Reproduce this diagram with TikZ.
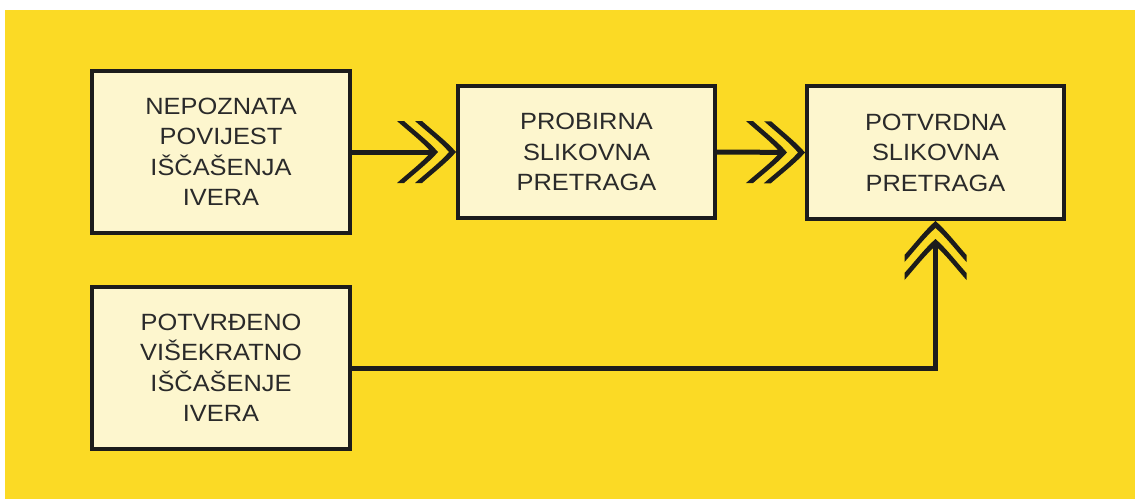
\documentclass[tikz,border=0pt]{standalone}
\usepackage{fontspec}
\setmainfont[FakeStretch=1.08]{Liberation Sans}
\usetikzlibrary{arrows.meta}
\definecolor{bgyellow}{HTML}{FBDA25}
\definecolor{boxfill}{HTML}{FDF6CE}
\definecolor{ink}{HTML}{1C1C1C}
\definecolor{txt}{HTML}{2A2A2A}

\newcommand\dchevshape[1]{%
  \pgfpathmoveto{\pgfpoint{#1pt-34pt}{31pt}}%
  \pgfpathcurveto{\pgfpoint{#1pt-24pt}{22pt}}{\pgfpoint{#1pt-8.5pt}{10pt}}{\pgfpoint{#1pt}{0pt}}%
  \pgfpathcurveto{\pgfpoint{#1pt-8.5pt}{-10pt}}{\pgfpoint{#1pt-24pt}{-22pt}}{\pgfpoint{#1pt-34pt}{-31pt}}%
  \pgfpathlineto{\pgfpoint{#1pt-41pt}{-31pt}}%
  \pgfpathcurveto{\pgfpoint{#1pt-31pt}{-22pt}}{\pgfpoint{#1pt-15.5pt}{-10pt}}{\pgfpoint{#1pt-7pt}{0pt}}%
  \pgfpathcurveto{\pgfpoint{#1pt-15.5pt}{10pt}}{\pgfpoint{#1pt-31pt}{22pt}}{\pgfpoint{#1pt-41pt}{31pt}}%
  \pgfpathclose}

\pgfdeclarearrow{
  name=DChev,
  setup code={
    \pgfarrowssettipend{0pt}
    \pgfarrowssetbackend{-59pt}
    \pgfarrowssetlineend{-21pt}
    \pgfarrowsupperhullpoint{-59pt}{31pt}
    \pgfarrowsupperhullpoint{0pt}{0pt}
  },
  drawing code={
    \dchevshape{0}
    \dchevshape{-18}
    \pgfusepathqfill
  },
}

\tikzset{
  box/.style={draw=ink, line width=4pt, fill=boxfill, align=center,
    text=txt, font=\fontsize{23.5}{30.5}\selectfont,
    minimum width=258pt, minimum height=162pt, inner sep=0pt},
  conn/.style={draw=ink, line width=5pt, line join=miter, -{DChev}}
}

\begin{document}
\begin{tikzpicture}[x=1pt,y=-1pt]
\useasboundingbox (0,0) rectangle (1135,499);
\fill[white] (0,0) rectangle (1135,499);
\fill[bgyellow] (5,10) rectangle (1135,499);

\node[box] (A) at (221,152) {NEPOZNATA\\POVIJEST\\IŠČAŠENJA\\IVERA};
\node[box, minimum width=257pt, minimum height=132pt] (B) at (586.5,152) {PROBIRNA\\SLIKOVNA\\PRETRAGA};
\node[box, minimum width=257pt, minimum height=133pt] (C) at (935.5,152.5) {POTVRDNA\\SLIKOVNA\\PRETRAGA};
\node[box] (D) at (221,368) {POTVRĐENO\\VIŠEKRATNO\\IŠČAŠENJE\\IVERA};

\draw[conn] (A.east) -- (B.west);
\draw[conn] (B.east) -- (C.west);
\draw[conn] (D.east) -| (C.south);
\end{tikzpicture}
\end{document}
